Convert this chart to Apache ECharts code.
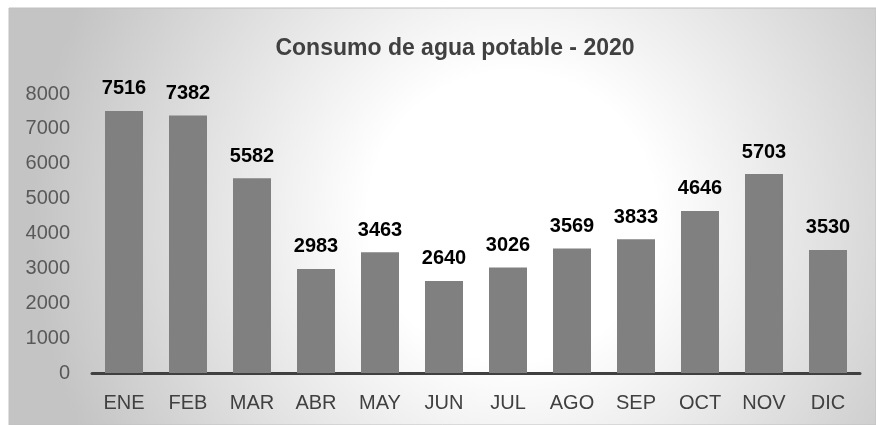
<!DOCTYPE html>
<html>
<head>
<meta charset="utf-8">
<script src="https://cdn.jsdelivr.net/npm/echarts@6/dist/echarts.min.js"></script>
<style>
  html, body { margin: 0; padding: 0; background: #fff; }
  #chart { width: 876px; height: 425px; }
</style>
</head>
<body>
<div id="chart"></div>
<script>
const titulo = "Consumo de agua potable - 2020";
const meses = ["ENE", "FEB", "MAR", "ABR", "MAY", "JUN", "JUL", "AGO", "SEP", "OCT", "NOV", "DIC"];
const consumo = [7516, 7382, 5582, 2983, 3463, 2640, 3026, 3569, 3833, 4646, 5703, 3530];
const ticks_y = [0, 1000, 2000, 3000, 4000, 5000, 6000, 7000, 8000];

const fuente = "'Liberation Sans', Arial, sans-serif";
const chart = echarts.init(document.getElementById("chart"));

chart.setOption({
  animation: false,
  textStyle: { fontFamily: fuente },
  graphic: [
    {
      type: "rect",
      z: -10,
      silent: true,
      shape: { x: 9, y: 8, width: 867, height: 417 },
      style: {
        fill: {
          type: "radial",
          x: 0.58,
          y: 0.5,
          r: 1.15,
          colorStops: [
            { offset: 0, color: "#ffffff" },
            { offset: 0.3, color: "#ffffff" },
            { offset: 1, color: "#c4c4c4" },
          ],
        },
        stroke: "#c0c0c0",
        lineWidth: 1,
      },
    },
  ],
  title: {
    text: titulo,
    left: 450,
    textAlign: "center",
    top: 32,
    textStyle: { fontFamily: fuente, fontSize: 23, fontWeight: "bold", color: "#404040" },
  },
  grid: { left: 92, right: 16, top: 94, bottom: 52, containLabel: false },
  xAxis: {
    type: "category",
    data: meses,
    axisLine: { lineStyle: { color: "#404040", width: 3 } },
    axisTick: { show: false },
    axisLabel: { color: "#404040", fontSize: 20, margin: 20 },
  },
  yAxis: {
    type: "value",
    min: ticks_y[0],
    max: ticks_y[ticks_y.length - 1],
    interval: 1000,
    splitLine: { show: false },
    axisLine: { show: false },
    axisTick: { show: false },
    axisLabel: { color: "#595959", fontSize: 20, margin: 22, formatter: (v) => String(v) },
  },
  series: [
    {
      type: "bar",
      data: consumo,
      barWidth: 38,
      itemStyle: { color: "#808080" },
      label: {
        show: true,
        position: "top",
        distance: 12,
        color: "#000000",
        fontSize: 20,
        fontWeight: "bold",
      },
    },
  ],
});
</script>
</body>
</html>
